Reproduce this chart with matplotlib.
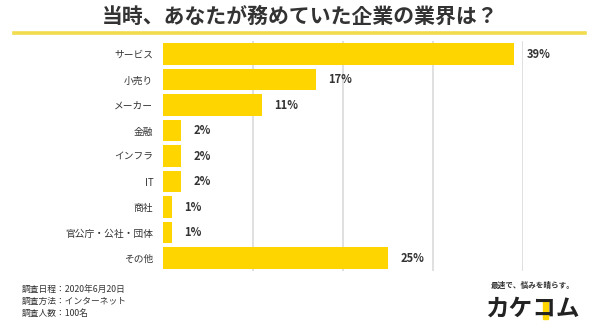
import matplotlib
matplotlib.use("Agg")
import matplotlib.pyplot as plt
from matplotlib.patches import Rectangle

plt.rcParams['font.family'] = ['Noto Sans CJK JP', 'DejaVu Sans']

# survey results (%)
categories = ['サービス', '小売り', 'メーカー', '金融', 'インフラ', 'IT', '商社', '官公庁・公社・団体', 'その他']
values = [39, 17, 11, 2, 2, 2, 1, 1, 25]
value_labels = ['39%', '17%', '11%', '2%', '2%', '2%', '1%', '1%', '25%']
notes = ['調査日程：2020年6月20日', '調査方法：インターネット', '調査人数：100名']

bar_color = '#FFD500'
text_color = '#333333'

fig = plt.figure(figsize=(6, 3.36), dpi=100)
fig.patch.set_facecolor('white')

# title and underline
fig.text(0.5, 0.952, '当時、あなたが務めていた企業の業界は？', ha='center', va='center',
         fontsize=15, fontweight='bold', color=text_color)
fig.add_artist(plt.Line2D([0.024, 0.975], [0.902, 0.902], color='#F2DC4E', lw=2.6))

ax = fig.add_axes([163 / 600, 0.194, 360 / 600, 0.683])
y = list(range(len(categories)))
ax.barh(y, values, height=0.84, color=bar_color, zorder=2)
ax.set_xlim(0, 40)
ax.set_ylim(len(categories) - 0.5, -0.5)
ax.set_xticks([10, 20, 30, 40])
ax.xaxis.grid(True, color='#DDDDDD', lw=1.3, zorder=0)
ax.set_xticklabels([])
ax.tick_params(axis='both', length=0)
ax.set_yticks(y)
ax.set_yticklabels(categories, fontsize=7, color=text_color)
ax.tick_params(axis='y', pad=7)
for s in ax.spines.values():
    s.set_visible(False)

for yi, v, lab in zip(y, values, value_labels):
    ax.annotate(lab, (v, yi), xytext=(9, 0), textcoords='offset points',
                ha='left', va='center', fontsize=8, fontweight='bold', color=text_color)

# survey notes
for i, n in enumerate(notes):
    fig.text(0.037, 1 - (289 + i * 12) / 336, n, ha='left', va='center', fontsize=6.3, color=text_color)

# logo
fig.text(0.888, 1 - 285 / 336, '最速で、悩みを晴らす。', ha='center', va='center',
         fontsize=5.5, fontweight='bold', color=text_color)
fig.add_artist(Rectangle((543 / 600, 1 - 319 / 336), 5 / 600, 19 / 336, color=bar_color, zorder=1))
fig.text(0.888, 1 - 309 / 336, 'カケコム', ha='center', va='center',
         fontsize=17, fontweight='bold', color='#222222', zorder=2)

fig.savefig('out.png', dpi=100, facecolor='white')
